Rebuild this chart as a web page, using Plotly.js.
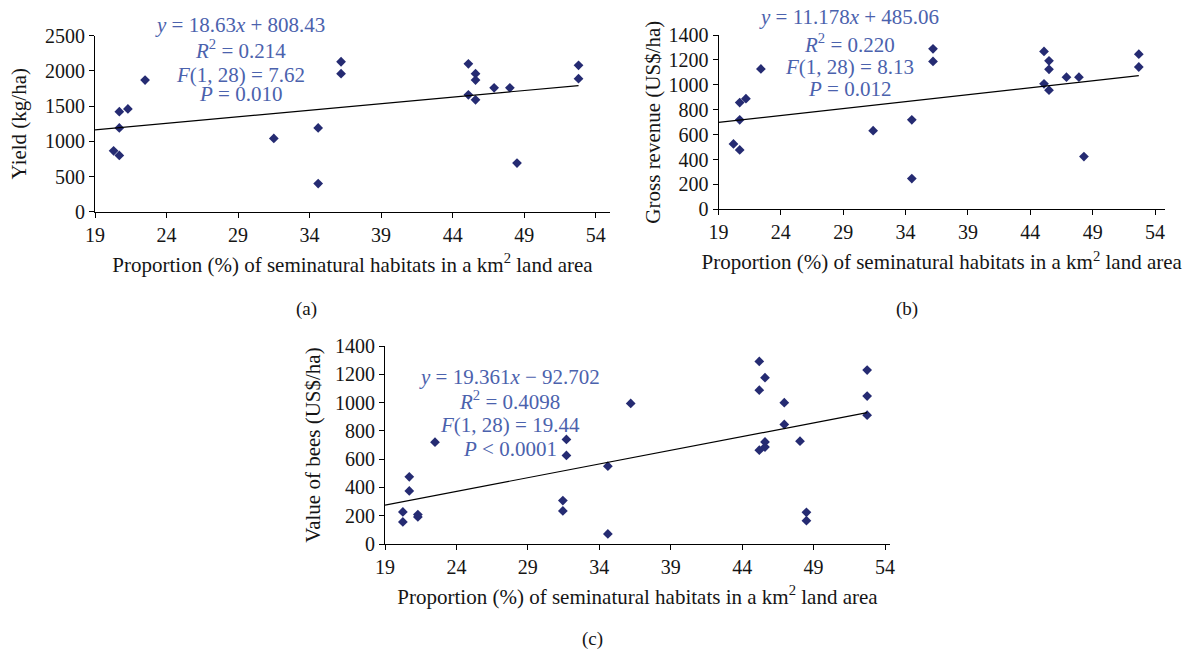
<!DOCTYPE html>
<html><head><meta charset="utf-8">
<script src="https://cdn.plot.ly/plotly-3.0.1.min.js"></script>
<style>html,body{margin:0;padding:0;background:#fff}#chart{width:1191px;height:656px}</style>
</head><body><div id="chart"></div>
<script>
// ---- Data ----
const habitatA = [20.3, 20.7, 20.7, 20.7, 21.3, 22.5, 31.5, 34.6, 34.6, 36.2, 36.2, 45.1, 45.1, 45.6, 45.6, 45.6, 46.9, 48.0, 48.5, 52.8, 52.8];
const yieldKgHa = [865, 800, 1190, 1420, 1460, 1870, 1040, 1190, 400, 1960, 2130, 2100, 1660, 1960, 1870, 1590, 1760, 1760, 690, 2080, 1890];

const habitatB = [20.2, 20.7, 20.7, 20.7, 21.2, 22.4, 31.4, 34.5, 34.5, 36.2, 36.2, 45.1, 45.1, 45.5, 45.5, 45.5, 46.9, 47.9, 48.3, 52.7, 52.7];
const grossRevenue = [525, 477, 719, 857, 888, 1127, 631, 719, 247, 1188, 1289, 1268, 1008, 1193, 1124, 957, 1061, 1061, 424, 1246, 1143];

const habitatC = [20.25, 20.25, 20.7, 20.7, 21.3, 21.3, 22.5, 31.45, 31.45, 31.7, 31.7, 34.6, 34.6, 36.2, 45.2, 45.2, 45.2, 45.6, 45.6, 45.6, 46.95, 46.95, 48.05, 48.5, 48.5, 52.75, 52.75, 52.75];
const beeValue = [156, 227, 375, 475, 191, 208, 720, 234, 307, 626, 739, 550, 71, 994, 1291, 1088, 663, 1176, 722, 685, 999, 845, 727, 224, 165, 1230, 1046, 911];

// regression lines: [slope, intercept], x extent
const fitA = [18.63, 808.43];   const fitXA = [19, 52.8];
const fitB = [11.178, 485.06];  const fitXB = [19, 52.7];
const fitC = [19.361, -92.702]; const fitXC = [19, 52.75];

const statsA = ['<i>y</i> = 18.63<i>x</i> + 808.43', '<i>R</i><sup>2</sup> = 0.214', '<i>F</i>(1, 28) = 7.62', '<i>P</i> = 0.010'];
const statsB = ['<i>y</i> = 11.178<i>x</i> + 485.06', '<i>R</i><sup>2</sup> = 0.220', '<i>F</i>(1, 28) = 8.13', '<i>P</i> = 0.012'];
const statsC = ['<i>y</i> = 19.361<i>x</i> − 92.702', '<i>R</i><sup>2</sup> = 0.4098', '<i>F</i>(1, 28) = 19.44', '<i>P</i> &lt; 0.0001'];

const xTitle = 'Proportion (%) of seminatural habitats in a km<sup>2</sup> land area';
const yTitles = ['Yield (kg/ha)', 'Gross revenue (US$/ha)', 'Value of bees (US$/ha)'];
const panelLabels = ['(a)', '(b)', '(c)'];

// ---- Layout helpers ----
const W = 1191, H = 656;
const px = v => v / W;
const py = v => (H - v) / H;
const FONT = 'Liberation Serif, Times New Roman, serif';
const MARK = '#252b72';
const BLUE = '#4b62ad';
const TXT = '#151515';

function line(fit, xs) { return xs.map(x => fit[0] * x + fit[1]); }

const marker = {symbol: 'diamond', size: 7.5, color: MARK};
const traces = [
  {x: habitatA, y: yieldKgHa, xaxis: 'x', yaxis: 'y', mode: 'markers', type: 'scatter', marker: marker},
  {x: fitXA, y: line(fitA, fitXA), xaxis: 'x', yaxis: 'y', mode: 'lines', type: 'scatter', line: {color: '#000', width: 1.2}},
  {x: habitatB, y: grossRevenue, xaxis: 'x2', yaxis: 'y2', mode: 'markers', type: 'scatter', marker: marker},
  {x: fitXB, y: line(fitB, fitXB), xaxis: 'x2', yaxis: 'y2', mode: 'lines', type: 'scatter', line: {color: '#000', width: 1.2}},
  {x: habitatC, y: beeValue, xaxis: 'x3', yaxis: 'y3', mode: 'markers', type: 'scatter', marker: marker},
  {x: fitXC, y: line(fitC, fitXC), xaxis: 'x3', yaxis: 'y3', mode: 'lines', type: 'scatter', line: {color: '#000', width: 1.2}}
];

function xax(dom, range, anchor) {
  return {domain: dom, range: range, anchor: anchor, tick0: 19, dtick: 5, ticks: 'outside', ticklen: 5,
    tickcolor: '#000', showline: true, linecolor: '#000', linewidth: 1, showgrid: false, zeroline: false,
    tickfont: {family: FONT, size: 20, color: TXT},
    title: {text: xTitle, font: {family: FONT, size: 21, color: TXT}, standoff: 12}};
}
function yax(dom, range, dtick, anchor, title, standoff) {
  return {domain: dom, range: range, anchor: anchor, dtick: dtick, ticks: 'outside', ticklen: 5,
    tickcolor: '#000', showline: true, linecolor: '#000', linewidth: 1, showgrid: false, zeroline: false,
    tickfont: {family: FONT, size: 20, color: TXT},
    title: {text: title, font: {family: FONT, size: 21, color: TXT}, standoff: standoff}};
}

const annotations = [];
function addStats(lines, cx, ys) {
  lines.forEach((t, i) => annotations.push({xref: 'paper', yref: 'paper', x: px(cx), y: py(ys[i]),
    xanchor: 'center', yanchor: 'middle', text: t, showarrow: false, font: {family: FONT, size: 21, color: BLUE}}));
}
addStats(statsA, 240, [25, 50, 75, 94]);
addStats(statsB, 849, [17, 43, 67, 89]);
addStats(statsC, 510, [377, 400, 425, 449]);
[[306, 309], [907, 309], [592, 639]].forEach((p, i) => annotations.push({xref: 'paper', yref: 'paper',
  x: px(p[0]), y: py(p[1]), xanchor: 'center', yanchor: 'middle', text: panelLabels[i], showarrow: false,
  font: {family: FONT, size: 19, color: TXT}}));

const layout = {
  width: W, height: H, margin: {l: 0, r: 0, t: 0, b: 0}, paper_bgcolor: '#fff', plot_bgcolor: '#fff',
  showlegend: false, hovermode: false,
  xaxis: xax([px(95), px(610)], [19, 55], 'y'),
  yaxis: yax([py(211.7), py(35.7)], [0, 2500], 500, 'x', yTitles[0], 12),
  xaxis2: xax([px(718.5), px(1165)], [19, 54.8], 'y2'),
  yaxis2: yax([py(209.3), py(35)], [0, 1400], 200, 'x2', yTitles[1], 2),
  xaxis3: xax([px(385), px(890)], [19, 54.35], 'y3'),
  yaxis3: yax([py(544), py(346)], [0, 1400], 200, 'x3', yTitles[2], 8),
  annotations: annotations
};
Plotly.newPlot('chart', traces, layout, {displayModeBar: false, staticPlot: true});
</script></body></html>
